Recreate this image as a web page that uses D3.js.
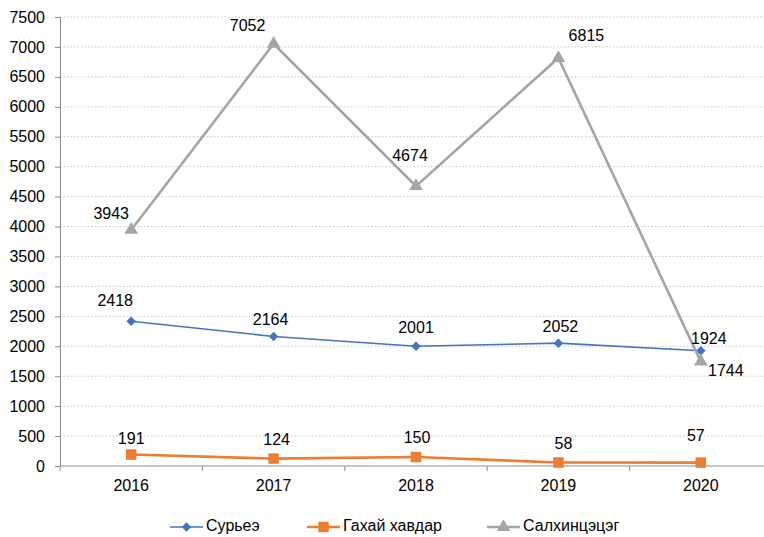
<!DOCTYPE html>
<html><head><meta charset="utf-8">
<script src="https://cdn.jsdelivr.net/npm/d3@7"></script>
<style>body{margin:0;background:#fff}svg{display:block;font-family:"Liberation Sans",Arial,sans-serif}</style>
</head><body><svg id="c" width="764" height="537"></svg>
<script>
const years = ["2016","2017","2018","2019","2020"];
const seriesNames = ["Сурьеэ","Гахай хавдар","Салхинцэцэг"];
const surye = [2418,2164,2001,2052,1924];
const gahai = [191,124,150,58,57];
const salkhi = [3943,7052,4674,6815,1744];
const yTicks = [0,500,1000,1500,2000,2500,3000,3500,4000,4500,5000,5500,6000,6500,7000,7500];

const colors = ["#4472C4","#ED7D31","#A5A5A5"];
const widths = [1.6,2.6,2.6];
const diamond = {draw(ctx,size){const r=Math.sqrt(size/2);ctx.moveTo(0,-r);ctx.lineTo(r,0);ctx.lineTo(0,r);ctx.lineTo(-r,0);ctx.closePath();}};
const symbols = [diamond, d3.symbolSquare, d3.symbolTriangle];
const symSizes = [45,110,80];
const FS = 16;
// label offsets [dx,dy] per series per point
const labelOff = [
  [[-16,-19],[-3,-16],[0,-17],[2,-15],[8,-11]],
  [[0,-15],[3,-18],[1,-18],[5,-18],[-5,-26]],
  [[-20,-15],[-26,-17],[-6,-29],[28,-21],[25,10]]
];

const svg = d3.select("#c");
const L=60, R=772, T=17, B=466;
const x = d3.scaleBand().domain(years).range([L,R]);
const y = d3.scaleLinear().domain([0,7500]).range([B,T]);
const data = [surye,gahai,salkhi];

// gridlines
svg.append("g").selectAll("line").data(yTicks.filter(d=>d>0)).join("line")
  .attr("x1",L).attr("x2",R).attr("y1",d=>y(d)).attr("y2",d=>y(d))
  .attr("stroke","#c8c8c8").attr("stroke-width",1).attr("stroke-dasharray","1.5,2");

// y axis
const ya = svg.append("g").attr("transform",`translate(${L},0)`)
  .call(d3.axisLeft(y).tickValues(yTicks).tickSize(5).tickPadding(10).tickFormat(d3.format("d")));
ya.select(".domain").attr("stroke","#8c8c8c");
ya.selectAll(".tick line").attr("stroke","#8c8c8c");
ya.selectAll("text").attr("font-size",FS).attr("fill","#000").attr("font-family","Liberation Sans, Arial, sans-serif");

// x axis
const xa = svg.append("g").attr("transform",`translate(0,${B})`)
  .call(d3.axisBottom(x).tickSize(0).tickPadding(14));
xa.select(".domain").attr("stroke","#8c8c8c").attr("d",`M${L},0H${R}`);
xa.selectAll("text").attr("font-size",FS).attr("fill","#000").attr("font-family","Liberation Sans, Arial, sans-serif");
svg.append("g").selectAll("line").data(years).join("line")
  .attr("x1",d=>x(d)).attr("x2",d=>x(d)).attr("y1",B).attr("y2",B+5).attr("stroke","#8c8c8c");

const cx = d=>x(d)+x.bandwidth()/2;
const line = d3.line().x((d,i)=>cx(years[i])).y(d=>y(d));

data.forEach((vals,si)=>{
  const g = svg.append("g");
  g.append("path").datum(vals).attr("d",line).attr("fill","none")
    .attr("stroke",colors[si]).attr("stroke-width",widths[si]);
  g.selectAll("path.m").data(vals).join("path").attr("class","m")
    .attr("d",d3.symbol().type(symbols[si]).size(symSizes[si]))
    .attr("transform",(d,i)=>`translate(${cx(years[i])},${y(d)})`)
    .attr("fill",colors[si]);
});
data.forEach((vals,si)=>{
  svg.append("g").selectAll("text").data(vals).join("text")
    .attr("x",(d,i)=>cx(years[i])+labelOff[si][i][0])
    .attr("y",(d,i)=>y(d)+labelOff[si][i][1])
    .attr("text-anchor","middle").attr("dominant-baseline","middle")
    .attr("font-size",FS).attr("fill","#000").text(d=>d);
});

// legend
const legX = [170,307,487];
const lg = svg.append("g");
seriesNames.forEach((n,si)=>{
  const g = lg.append("g").attr("transform",`translate(${legX[si]},527)`);
  g.append("line").attr("x1",0).attr("x2",33).attr("stroke",colors[si]).attr("stroke-width",widths[si]);
  g.append("path").attr("d",d3.symbol().type(symbols[si]).size(symSizes[si]))
    .attr("transform","translate(16.5,0)").attr("fill",colors[si]);
  g.append("text").attr("x",36).attr("y",0).attr("dominant-baseline","middle")
    .attr("font-size",FS).attr("fill","#000").text(n);
});
</script></body></html>
